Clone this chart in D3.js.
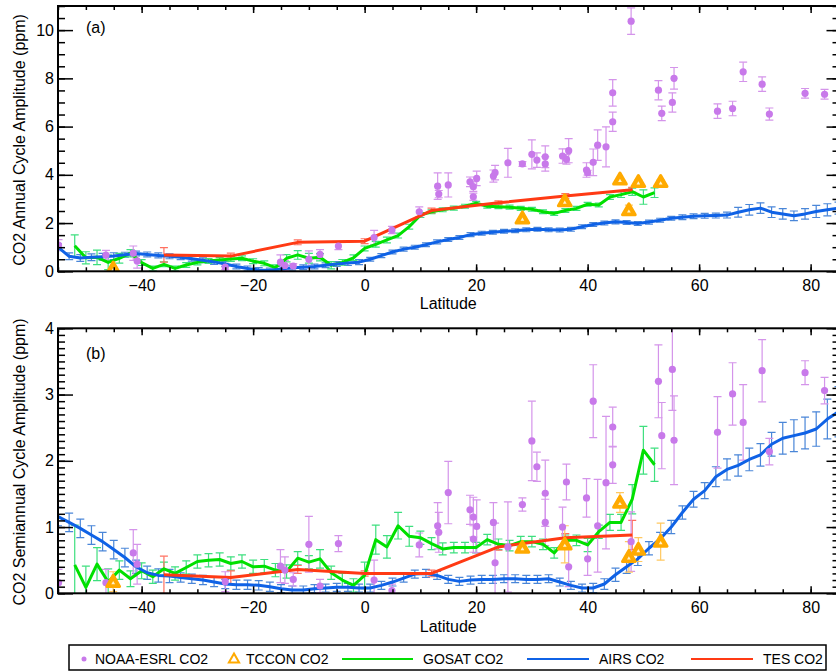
<!DOCTYPE html>
<html>
<head>
<meta charset="utf-8">
<script src="https://cdn.jsdelivr.net/npm/d3@7"></script>
<style>
  body { margin: 0; background: #fff; }
  svg { display: block; font-family: "Liberation Sans", Arial, sans-serif; }
</style>
</head>
<body>
<div id="wrapper"></div>
<script>
// ---- data ----
const latTicks = [-40, -20, 0, 20, 40, 60, 80]
const annTicks = [0, 2, 4, 6, 8, 10]
const semiTicks = [0, 1, 2, 3, 4]

// AIRS (2 deg bins)
const airsLat = [-55,-53,-51,-49,-47,-45,-43,-41,-39,-37,
  -35,-33,-31,-29,-27,-25,-23,-21,-19,-17,
  -15,-13,-11,-9,-7,-5,-3,-1,1,3,
  5,7,9,11,13,15,17,19,21,23,
  25,27,29,31,33,35,37,39,41,43,
  45,47,49,51,53,55,57,59,61,63,
  65,67,69,71,73,75,77,79,81,83,
  85]
const airsAnn = [1.00,0.62,0.55,0.58,0.60,0.63,0.69,0.74,0.70,0.66,
  0.62,0.58,0.52,0.46,0.39,0.30,0.20,0.12,0.05,0.03,
  0.10,0.15,0.17,0.20,0.25,0.30,0.34,0.38,0.50,0.65,
  0.80,0.92,1.00,1.10,1.22,1.32,1.40,1.52,1.58,1.62,
  1.66,1.68,1.72,1.74,1.72,1.71,1.74,1.85,1.94,2.00,
  2.05,2.02,1.98,2.04,2.12,2.20,2.24,2.28,2.30,2.31,
  2.33,2.45,2.55,2.62,2.45,2.38,2.30,2.38,2.48,2.55,
  2.62]
const airsAnnErr = [0.14,0.14,0.14,0.14,0.14,0.14,0.10,0.10,0.10,0.10,
  0.10,0.10,0.10,0.10,0.10,0.10,0.10,0.10,0.10,0.10,
  0.10,0.10,0.10,0.10,0.10,0.10,0.10,0.10,0.08,0.08,
  0.08,0.08,0.08,0.08,0.08,0.08,0.08,0.08,0.08,0.08,
  0.08,0.08,0.08,0.08,0.08,0.08,0.08,0.08,0.08,0.08,
  0.08,0.08,0.08,0.08,0.08,0.08,0.10,0.10,0.10,0.10,
  0.12,0.20,0.22,0.22,0.22,0.22,0.20,0.22,0.25,0.25,
  0.25]
const airsSemi = [1.16,1.07,0.98,0.88,0.78,0.66,0.54,0.40,0.31,0.27,
  0.26,0.24,0.22,0.20,0.17,0.14,0.13,0.13,0.12,0.10,
  0.07,0.05,0.05,0.07,0.08,0.09,0.09,0.08,0.08,0.12,
  0.17,0.23,0.29,0.30,0.27,0.21,0.18,0.20,0.21,0.21,
  0.22,0.22,0.21,0.21,0.22,0.17,0.12,0.08,0.08,0.14,
  0.28,0.40,0.52,0.68,0.82,1.00,1.22,1.42,1.55,1.76,
  1.87,1.93,2.02,2.09,2.25,2.34,2.38,2.42,2.48,2.63,
  2.74]
const airsSemiErr = [0.14,0.14,0.14,0.14,0.14,0.14,0.14,0.10,0.10,0.10,
  0.10,0.07,0.07,0.07,0.07,0.07,0.07,0.07,0.07,0.07,
  0.06,0.06,0.06,0.06,0.06,0.06,0.06,0.06,0.06,0.06,
  0.06,0.06,0.06,0.06,0.06,0.06,0.06,0.06,0.06,0.06,
  0.06,0.06,0.06,0.06,0.06,0.06,0.06,0.06,0.07,0.08,
  0.10,0.10,0.10,0.10,0.10,0.10,0.10,0.12,0.12,0.15,
  0.16,0.16,0.17,0.17,0.18,0.24,0.24,0.24,0.26,0.30,
  0.38]

// GOSAT
const gosatLat = [-52,-50,-48,-46,-44,-42,-40,-38,-36,-34,
  -32,-30,-28,-26,-24,-22,-20,-18,-16,-14,
  -12,-10,-8,-6,-4,-2,0,2,4,6,
  8,10,12,14,16,18,20,22,24,26,
  28,30,32,34,36,38,40,42,44,46,
  48,50,52]
const gosatAnn = [1.06,0.56,0.58,0.37,0.54,0.75,0.36,0.12,0.29,0.12,
  0.26,0.37,0.43,0.47,0.51,0.54,0.42,0.33,0.15,0.54,
  0.68,0.54,0.58,0.25,0.37,0.56,0.95,1.12,1.30,1.48,
  1.85,2.33,2.47,2.55,2.62,2.70,2.82,2.70,2.68,2.66,
  2.61,2.57,2.47,2.40,2.52,2.61,2.78,2.75,3.08,3.18,
  3.30,3.08,3.26]
const gosatAnnErr = [0.45,0.25,0.30,0.30,0.20,0.15,0.12,0.10,0.10,0.10,
  0.10,0.10,0.10,0.10,0.10,0.10,0.10,0.10,0.12,0.15,
  0.18,0.20,0.15,0.15,0.12,0.12,0.10,0.12,0.12,0.10,
  0.10,0.10,0.08,0.08,0.08,0.08,0.08,0.08,0.08,0.08,
  0.08,0.08,0.08,0.08,0.08,0.08,0.08,0.08,0.10,0.12,
  0.15,0.30,0.20]
const gosatSemi = [0.43,0.09,0.44,0.17,0.35,0.22,0.34,0.25,0.37,0.30,
  0.39,0.48,0.50,0.51,0.45,0.48,0.40,0.41,0.35,0.33,
  0.53,0.47,0.52,0.31,0.20,0.12,0.27,0.81,0.70,1.02,
  0.86,0.84,0.75,0.67,0.69,0.69,0.69,0.81,0.74,0.72,
  0.78,0.78,0.74,0.61,0.80,0.80,0.73,0.93,1.07,1.07,
  1.42,2.16,1.94]
const gosatSemiErr = [0.60,0.32,0.25,0.20,0.14,0.12,0.12,0.10,0.10,0.10,
  0.10,0.10,0.10,0.10,0.10,0.10,0.10,0.10,0.10,0.10,
  0.10,0.10,0.14,0.10,0.10,0.10,0.20,0.22,0.17,0.20,
  0.15,0.10,0.09,0.09,0.08,0.08,0.08,0.08,0.08,0.08,
  0.08,0.08,0.08,0.08,0.08,0.08,0.10,0.10,0.12,0.12,
  0.22,0.36,0.25]

// TES
const tesLat = [-36, -24, -12, 0, 12, 24, 36, 48]
const tesAnn = [0.68, 0.63, 1.20, 1.25, 2.52, 2.84, 3.12, 3.38]
const tesAnnErr = [0.30, 0.12, 0.10, 0.10, 0.10, 0.08, 0.10, 0.10]
const tesSemi = [0.28, 0.24, 0.36, 0.30, 0.30, 0.70, 0.84, 0.88]
const tesSemiErr = [0.28, 0.10, 0.06, 0.04, 0.05, 0.05, 0.06, 0.22]

// TCCON
const tcconLat = [-45.1, 28.3, 35.9, 45.8, 47.4, 49.1, 53.1]
const tcconAnn = [0.12, 2.20, 2.91, 3.81, 2.54, 3.71, 3.71]
const tcconAnnErr = [0.05, 0.05, 0.20, 0.08, 0.20, 0.08, 0.08]
const tcconSemi = [0.175, 0.69, 0.74, 1.37, 0.55, 0.66, 0.78]
const tcconSemiErr = [0.15, 0.05, 0.28, 0.15, 0.23, 0.18, 0.28]

// NOAA-ESRL surface sites
const noaaLat = [-54.9,-46.4,-41.5,-40.8,-25.0,-15.1,-14.3,-12.8,-10.0,-8.0,
  -4.7,1.7,4.9,9.8,13.1,13.3,15.0,18.9,19.5,19.5,
  20.1,23.1,23.4,25.7,28.3,30.0,30.9,32.4,32.4,35.5,
  36.2,36.6,39.8,40.0,41.0,41.8,43.3,44.5,44.5,47.8,
  52.7,53.3,55.2,55.5,63.3,66.0,67.9,71.3,72.6,79.0,
  82.5]
const noaaAnn = [1.09,0.67,0.75,0.43,0.17,0.38,0.24,0.22,0.50,0.70,
  1.05,1.40,1.71,2.47,3.53,3.20,3.58,3.71,3.51,3.09,
  3.85,3.95,4.09,4.50,4.45,4.85,4.61,4.75,4.45,4.78,
  4.64,5.00,4.20,4.09,4.52,5.23,5.16,6.20,7.40,10.37,
  7.51,6.55,7.00,8.00,6.64,6.75,8.27,7.76,6.52,7.38,
  7.34]
const noaaAnnErr = [0.22,0.20,0.30,0.30,0.10,0.30,0.20,0.10,0.35,0.20,
  0.15,0.30,0.15,0.20,0.55,0.15,0.50,0.20,0.20,0.15,
  0.30,0.25,0.30,0.60,0.10,0.60,0.30,0.45,0.30,0.30,
  0.20,0.50,0.30,0.10,0.55,0.63,0.83,0.40,0.55,0.55,
  0.40,0.30,0.40,0.45,0.30,0.30,0.40,0.30,0.25,0.20,
  0.20]
const noaaSemi = [0.16,0.16,0.61,0.44,0.175,0.41,0.35,0.21,0.74,0.11,
  0.75,0.20,0.04,0.73,1.02,0.92,1.52,1.26,1.15,0.82,
  1.01,1.07,0.46,0.70,1.34,2.30,1.91,1.51,1.07,1.00,
  1.68,0.40,1.44,0.52,2.90,1.02,1.67,2.51,1.94,0.78,
  3.20,2.38,3.38,2.31,2.43,3.01,2.58,3.36,2.14,3.33,
  3.06]
const noaaSemiErr = [0.20,0.20,0.35,0.30,0.15,0.25,0.20,0.10,0.42,0.10,
  0.12,0.30,0.10,0.18,0.35,0.30,0.47,0.22,0.30,0.20,
  0.40,0.30,0.60,0.68,0.10,0.60,0.22,0.50,0.35,0.30,
  0.27,0.30,0.29,0.25,0.55,0.70,1.00,0.30,0.28,0.45,
  0.55,0.50,0.62,0.67,0.54,0.47,0.57,0.47,0.20,0.18,
  0.20]

const colors = {
  noaa: "#c879ea", noaaBar: "#d494ea",
  tccon: "#ffaa00", tcconBar: "#ffc860",
  gosat: "#00e000", gosatBar: "#3ddf7e",
  airs: "#0f62e6", airsBar: "#4a86d8",
  tes: "#ff3a14", tesBar: "#ff7060",
}

function drawChart() {

  // 1. Dimensions
  const dimensions = { width: 836, height: 671, left: 58, right: 838.5 }

  const panels = [
    {
      top: 6, bottom: 271.3, domain: [0, 11], ticks: annTicks, minorStep: 0.5,
      label: "(a)", labelY: 27, title: "CO2 Annual Cycle Amplitude (ppm)", titleY: 140,
      latLabelY: 303,
      airs: airsAnn, airsErr: airsAnnErr, gosat: gosatAnn, gosatErr: gosatAnnErr,
      tes: tesAnn, tesErr: tesAnnErr, tccon: tcconAnn, tcconErr: tcconAnnErr,
      noaa: noaaAnn, noaaErr: noaaAnnErr,
    },
    {
      top: 328.3, bottom: 593.3, domain: [0, 4], ticks: semiTicks, minorStep: 0.1,
      label: "(b)", labelY: 353, title: "CO2 Semiannual Cycle Amplitude (ppm)", titleY: 462,
      latLabelY: 626,
      airs: airsSemi, airsErr: airsSemiErr, gosat: gosatSemi, gosatErr: gosatSemiErr,
      tes: tesSemi, tesErr: tesSemiErr, tccon: tcconSemi, tcconErr: tcconSemiErr,
      noaa: noaaSemi, noaaErr: noaaSemiErr,
    },
  ]

  // 2. Canvas
  const svg = d3.select("#wrapper")
    .append("svg")
      .attr("width", dimensions.width)
      .attr("height", dimensions.height)

  const xScale = d3.scaleLinear()
    .domain([-55, 85])
    .range([dimensions.left, dimensions.right])

  const latMinor = d3.range(-55, 86, 5)

  panels.forEach((p, i) => {
    const yScale = d3.scaleLinear()
      .domain(p.domain)
      .range([p.bottom, p.top])

    const clipId = "clip" + i
    svg.append("clipPath").attr("id", clipId)
      .append("rect")
        .attr("x", dimensions.left)
        .attr("y", p.top)
        .attr("width", dimensions.right - dimensions.left)
        .attr("height", p.bottom - p.top)

    const plot = svg.append("g").attr("clip-path", `url(#${clipId})`)

    // error bars
    const drawBars = (lats, vals, errs, color, capW, width) => {
      const g = plot.append("g")
        .attr("stroke", color)
        .attr("stroke-width", width)
        .attr("fill", "none")
      lats.forEach((lat, j) => {
        const x = xScale(lat)
        const y0 = yScale(vals[j] - errs[j])
        const y1 = yScale(vals[j] + errs[j])
        g.append("line").attr("x1", x).attr("x2", x).attr("y1", y0).attr("y2", y1)
        g.append("line").attr("x1", x - capW / 2).attr("x2", x + capW / 2).attr("y1", y0).attr("y2", y0)
        g.append("line").attr("x1", x - capW / 2).attr("x2", x + capW / 2).attr("y1", y1).attr("y2", y1)
      })
    }

    drawBars(airsLat, p.airs, p.airsErr, colors.airsBar, 8, 1.2)
    drawBars(gosatLat, p.gosat, p.gosatErr, colors.gosatBar, 8, 1.2)
    drawBars(tesLat, p.tes, p.tesErr, colors.tesBar, 8, 1.2)
    drawBars(noaaLat, p.noaa, p.noaaErr, colors.noaaBar, 8, 1.2)
    drawBars(tcconLat, p.tccon, p.tcconErr, colors.tcconBar, 8, 1.2)

    // lines
    const lineGen = (lats) => d3.line()
      .x((d, j) => xScale(lats[j]))
      .y(d => yScale(d))

    plot.append("path")
      .attr("d", lineGen(gosatLat)(p.gosat))
      .attr("fill", "none").attr("stroke", colors.gosat).attr("stroke-width", 3)
      .attr("stroke-linejoin", "round")
    plot.append("path")
      .attr("d", lineGen(airsLat)(p.airs))
      .attr("fill", "none").attr("stroke", colors.airs).attr("stroke-width", 3)
      .attr("stroke-linejoin", "round")
    plot.append("path")
      .attr("d", lineGen(tesLat)(p.tes))
      .attr("fill", "none").attr("stroke", colors.tes).attr("stroke-width", 3)
      .attr("stroke-linejoin", "round")

    // NOAA dots
    plot.append("g").selectAll("circle")
      .data(p.noaa)
      .join("circle")
        .attr("cx", (d, j) => xScale(noaaLat[j]))
        .attr("cy", d => yScale(d))
        .attr("r", 3.6)
        .attr("fill", colors.noaa)

    // TCCON triangles: thick orange outline with a small light centre
    const tri = d3.symbol().type(d3.symbolTriangle).size(70)
    const triInner = d3.symbol().type(d3.symbolTriangle).size(6)
    const tcconG = plot.append("g")
    tcconG.selectAll(".tri")
      .data(p.tccon)
      .join("path")
        .attr("class", "tri")
        .attr("d", tri)
        .attr("transform", (d, j) => `translate(${xScale(tcconLat[j])},${yScale(d) + 1})`)
        .attr("fill", colors.tccon)
        .attr("stroke", colors.tccon)
        .attr("stroke-width", 3)
        .attr("stroke-linejoin", "round")
    tcconG.selectAll(".triInner")
      .data(p.tccon)
      .join("path")
        .attr("class", "triInner")
        .attr("d", triInner)
        .attr("transform", (d, j) => `translate(${xScale(tcconLat[j])},${yScale(d) + 1.5})`)
        .attr("fill", "#fff3d0")

    // axes
    const styleAxis = g => {
      g.select(".domain").remove()
      g.selectAll("line").attr("stroke", "#000").attr("stroke-width", 1.5)
      g.selectAll("text").attr("fill", "#000").style("font-size", "16px")
        .style("font-family", "'Liberation Sans', Arial, sans-serif")
    }
    const yMinor = d3.range(p.domain[0], p.domain[1] + 1e-9, p.minorStep)

    svg.append("g")
      .attr("transform", `translate(${dimensions.left},0)`)
      .call(d3.axisLeft(yScale).tickValues(p.ticks).tickSize(-15).tickPadding(4).tickFormat(d3.format("d")))
      .call(styleAxis)
    svg.append("g")
      .attr("transform", `translate(${dimensions.left},0)`)
      .call(d3.axisLeft(yScale).tickValues(yMinor).tickSize(-7).tickFormat(""))
      .call(styleAxis)
    svg.append("g")
      .attr("transform", `translate(${dimensions.right},0)`)
      .call(d3.axisRight(yScale).tickValues(p.ticks).tickSize(-12).tickFormat(""))
      .call(styleAxis)
    svg.append("g")
      .attr("transform", `translate(${dimensions.right},0)`)
      .call(d3.axisRight(yScale).tickValues(yMinor).tickSize(-6).tickFormat(""))
      .call(styleAxis)

    svg.append("g")
      .attr("transform", `translate(0,${p.bottom})`)
      .call(d3.axisBottom(xScale).tickValues(latTicks).tickSize(-7).tickPadding(8))
      .call(styleAxis)
    svg.append("g")
      .attr("transform", `translate(0,${p.bottom})`)
      .call(d3.axisBottom(xScale).tickValues(latMinor).tickSize(-4).tickFormat(""))
      .call(styleAxis)
    svg.append("g")
      .attr("transform", `translate(0,${p.top})`)
      .call(d3.axisTop(xScale).tickValues(latTicks).tickSize(-7).tickFormat(""))
      .call(styleAxis)
    svg.append("g")
      .attr("transform", `translate(0,${p.top})`)
      .call(d3.axisTop(xScale).tickValues(latMinor).tickSize(-4).tickFormat(""))
      .call(styleAxis)

    // frame
    svg.append("rect")
      .attr("x", dimensions.left)
      .attr("y", p.top)
      .attr("width", dimensions.right - dimensions.left)
      .attr("height", p.bottom - p.top)
      .attr("fill", "none")
      .attr("stroke", "#000")
      .attr("stroke-width", 2)

    // labels
    svg.append("text")
      .attr("x", 86)
      .attr("y", p.labelY)
      .attr("dominant-baseline", "central")
      .style("font-size", "16px")
      .text(p.label)

    svg.append("text")
      .attr("transform", `translate(19,${p.titleY}) rotate(-90)`)
      .attr("text-anchor", "middle")
      .attr("dominant-baseline", "central")
      .style("font-size", "16px")
      .text(p.title)

    svg.append("text")
      .attr("x", (dimensions.left + dimensions.right) / 2)
      .attr("y", p.latLabelY)
      .attr("text-anchor", "middle")
      .attr("dominant-baseline", "central")
      .style("font-size", "16px")
      .text("Latitude")
  })

  // 3. Legend
  const legend = svg.append("g")
  legend.append("rect")
    .attr("x", 69).attr("y", 645)
    .attr("width", 757).attr("height", 25)
    .attr("fill", "#fff").attr("stroke", "#000").attr("stroke-width", 1.5)

  const ly = 659
  legend.append("circle").attr("cx", 84).attr("cy", ly).attr("r", 2.5).attr("fill", colors.noaa)
  legend.append("path")
    .attr("d", d3.symbol().type(d3.symbolTriangle).size(45))
    .attr("transform", `translate(234,${ly + 0.5})`)
    .attr("fill", "none").attr("stroke", colors.tccon).attr("stroke-width", 2)
  const legendLines = [
    { x1: 342, x2: 413, color: colors.gosat },
    { x1: 527, x2: 589, color: colors.airs },
    { x1: 691, x2: 753, color: colors.tes },
  ]
  legendLines.forEach(l => {
    legend.append("line")
      .attr("x1", l.x1).attr("x2", l.x2).attr("y1", ly).attr("y2", ly)
      .attr("stroke", l.color).attr("stroke-width", 2)
  })
  const legendTexts = [
    { x: 95, text: "NOAA-ESRL CO2" },
    { x: 246, text: "TCCON CO2" },
    { x: 423, text: "GOSAT CO2" },
    { x: 599, text: "AIRS CO2" },
    { x: 763, text: "TES CO2" },
  ]
  legendTexts.forEach(t => {
    legend.append("text")
      .attr("x", t.x).attr("y", ly)
      .attr("dominant-baseline", "central")
      .style("font-size", "14px")
      .text(t.text)
  })
}
drawChart()
</script>
</body>
</html>
